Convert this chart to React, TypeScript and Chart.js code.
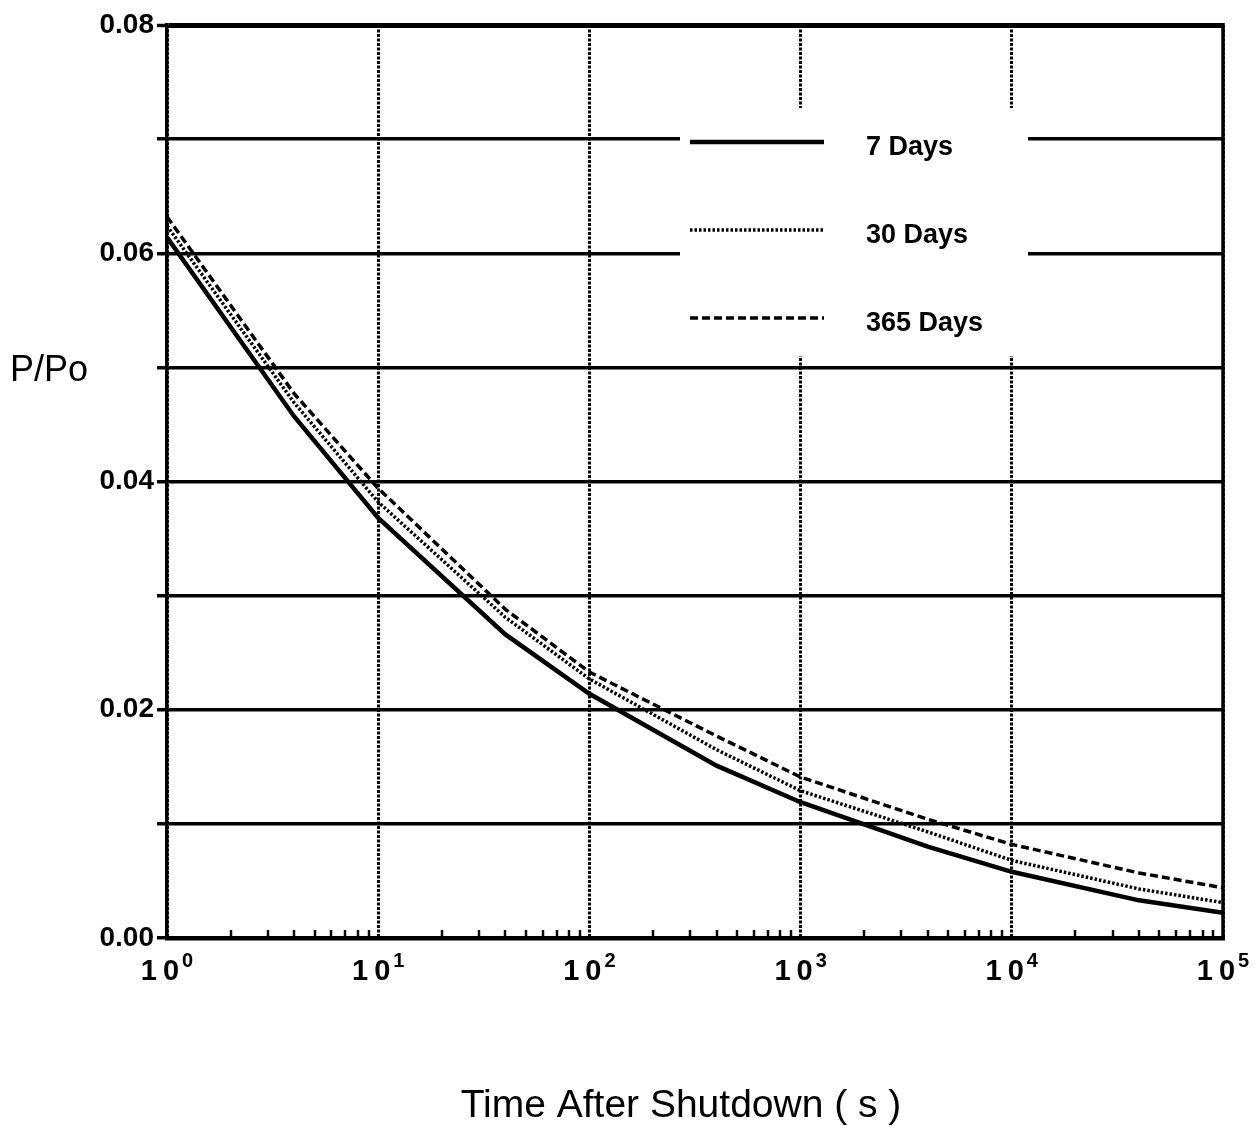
import { useEffect, useRef } from "react";
import { Chart, registerables } from "chart.js";

Chart.register(...registerables);

const FONT = "'Liberation Sans', Arial, Helvetica, sans-serif";

// Time after shutdown (s)
const times = [1, 4, 10, 40, 100, 400, 1000, 4000, 10000, 40000, 100000];
// P/Po for each irradiation period
const days7 = [0.0614, 0.0457, 0.0368, 0.0266, 0.0214, 0.0151, 0.0119, 0.008, 0.0058, 0.0033, 0.0022];
const days30 = [0.0624, 0.0469, 0.0382, 0.0281, 0.0227, 0.0165, 0.0129, 0.0093, 0.0068, 0.0043, 0.0031];
const days365 = [0.0632, 0.0477, 0.0394, 0.0288, 0.0233, 0.0177, 0.0141, 0.0104, 0.0082, 0.0057, 0.0044];

const seriesLabels = ["7 Days", "30 Days", "365 Days"];
const seriesDashes: number[][] = [[], [2.5, 2], [8, 4]];
const seriesWidths = [4.5, 3.5, 3.5];

const xDecades = [1, 10, 100, 1000, 10000, 100000];
const xExponents = ["0", "1", "2", "3", "4", "5"];
const minorMultipliers = [2, 3, 4, 5, 6, 7, 8, 9];

const yTitle = "P/Po";
const xTitle = "Time After Shutdown ( s )";

const CHART_TOP = 25;
const CHART_BOTTOM = 938;
const CHART_LEFT = 167;
const CHART_RIGHT = 1223;
const W = 1259;
const H = 1139;

const decor = {
  id: "decor",
  afterDraw(chart: any) {
    const { ctx, chartArea: a, scales } = chart;
    const x = scales.x;
    ctx.save();
    ctx.strokeStyle = "#000";
    ctx.fillStyle = "#000";
    ctx.setLineDash([]);

    // right border (solid)
    ctx.lineWidth = 3.5;
    ctx.beginPath();
    ctx.moveTo(a.right, a.top - 2);
    ctx.lineTo(a.right, a.bottom + 2);
    ctx.stroke();

    // minor ticks inside the x axis
    ctx.lineWidth = 2.5;
    for (let i = 0; i < xDecades.length - 1; i++) {
      for (const m of minorMultipliers) {
        const px = Math.round(x.getPixelForValue(xDecades[i] * m));
        ctx.beginPath();
        ctx.moveTo(px, a.bottom);
        ctx.lineTo(px, a.bottom - 8);
        ctx.stroke();
      }
    }

    // x tick labels 10^n
    const baseFont = `bold 29px ${FONT}`;
    const supFont = `bold 20px ${FONT}`;
    const baseY = a.bottom + 42;
    const supY = baseY - 13;
    ctx.textBaseline = "alphabetic";
    ctx.textAlign = "left";
    xDecades.forEach((v, i) => {
      const px = x.getPixelForValue(v);
      ctx.font = baseFont;
      const w1 = ctx.measureText("1").width;
      const w0 = ctx.measureText("0").width;
      ctx.font = supFont;
      const ws = ctx.measureText(xExponents[i]).width;
      const gap = 6;
      const supGap = 3;
      const total = w1 + gap + w0 + supGap + ws;
      let sx = px - total / 2;
      ctx.font = baseFont;
      ctx.fillText("1", sx, baseY);
      sx += w1 + gap;
      ctx.fillText("0", sx, baseY);
      sx += w0 + supGap;
      ctx.font = supFont;
      ctx.fillText(xExponents[i], sx, supY);
    });

    // axis titles
    ctx.font = `36px ${FONT}`;
    ctx.textAlign = "left";
    ctx.fillText(yTitle, 10, 381);
    ctx.font = `39px ${FONT}`;
    ctx.textAlign = "center";
    ctx.fillText(xTitle, 681, 1117);

    // legend box
    ctx.fillStyle = "#fff";
    ctx.fillRect(680, 108, 348, 248);
    const rows = [142, 230, 318];
    const lineX1 = 690;
    const lineX2 = 824;
    chart.data.datasets.forEach((ds: any, i: number) => {
      ctx.strokeStyle = "#000";
      ctx.lineWidth = ds.borderWidth;
      ctx.setLineDash(ds.borderDash || []);
      ctx.beginPath();
      ctx.moveTo(lineX1, rows[i]);
      ctx.lineTo(lineX2, rows[i]);
      ctx.stroke();
      ctx.setLineDash([]);
      ctx.fillStyle = "#000";
      ctx.font = `bold 27px ${FONT}`;
      ctx.textAlign = "left";
      ctx.textBaseline = "middle";
      ctx.fillText(ds.label, 866, rows[i] + 6);
    });
    ctx.restore();
  },
};

export default function App() {
  const ref = useRef<HTMLCanvasElement | null>(null);

  useEffect(() => {
    const canvas = ref.current;
    if (!canvas) return;
    const seriesValues = [days7, days30, days365];
    const chart = new Chart(canvas, {
      type: "line",
      data: {
        datasets: seriesValues.map((vals, i) => ({
          label: seriesLabels[i],
          data: times.map((t, j) => ({ x: t, y: vals[j] })),
          borderColor: "#000",
          borderWidth: seriesWidths[i],
          borderDash: seriesDashes[i],
          pointRadius: 0,
          tension: 0,
          fill: false,
        })),
      },
      options: {
        animation: false,
        responsive: false,
        devicePixelRatio: 1,
        layout: {
          padding: { top: CHART_TOP, right: W - CHART_RIGHT, left: 0, bottom: 0 },
        },
        plugins: {
          legend: { display: false },
          tooltip: { enabled: false },
        },
        scales: {
          x: {
            type: "logarithmic",
            min: 1,
            max: 100000,
            afterBuildTicks: (scale: any) => {
              scale.ticks = xDecades.map((v) => ({ value: v, major: true }));
            },
            afterFit: (scale: any) => {
              scale.height = H - CHART_BOTTOM;
            },
            ticks: { display: false, autoSkip: false },
            grid: {
              color: "#000",
              lineWidth: 3,
              drawTicks: false,
            },
            border: { display: true, color: "#000", width: 4.5, dash: [3, 1.5] },
          },
          y: {
            min: 0,
            max: 0.08,
            afterFit: (scale: any) => {
              scale.width = CHART_LEFT;
            },
            ticks: {
              stepSize: 0.01,
              color: "#000",
              padding: 3,
              font: { family: FONT, size: 28, weight: "bold" },
              callback: (v: any) => {
                const n = Math.round(Number(v) * 100);
                return n % 2 === 0 ? (n / 100).toFixed(2) : "";
              },
            },
            grid: {
              color: "#000",
              lineWidth: (c: any) => (c.tick && Math.abs(c.tick.value - 0.08) < 1e-9 ? 5 : 3.5),
              drawTicks: true,
              tickLength: 10,
              tickWidth: 3.5,
              tickColor: "#000",
            },
            border: { display: true, color: "#000", width: 3.5 },
          },
        },
      },
      plugins: [decor],
    });
    return () => chart.destroy();
  }, []);

  return (
    <div style={{ position: "absolute", left: 0, top: 0, width: W, height: H, background: "#fff" }}>
      <canvas ref={ref} width={W} height={H} style={{ display: "block" }} />
    </div>
  );
}
